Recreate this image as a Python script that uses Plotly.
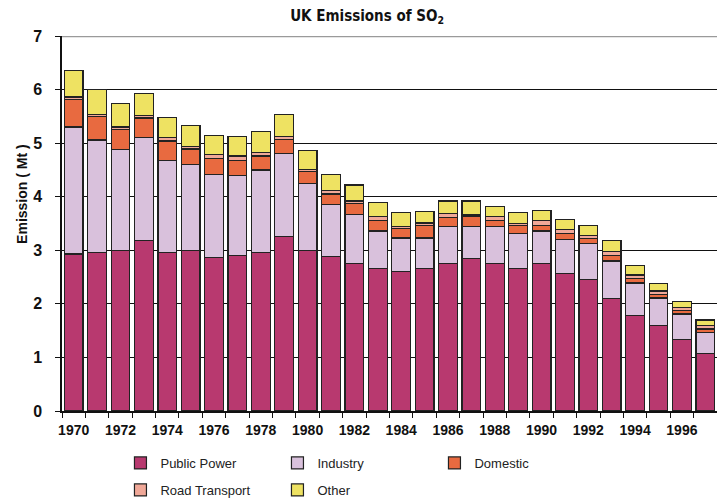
import plotly.graph_objects as go

years = list(range(1970, 1998))
public_power = [2.93, 2.96, 3.00, 3.19, 2.96, 2.99, 2.86, 2.90, 2.96, 3.26,
                3.00, 2.88, 2.76, 2.66, 2.61, 2.66, 2.76, 2.85, 2.76, 2.66,
                2.76, 2.57, 2.46, 2.10, 1.79, 1.60, 1.34, 1.08]
industry = [2.37, 2.10, 1.88, 1.92, 1.72, 1.61, 1.56, 1.50, 1.54, 1.55,
            1.25, 0.97, 0.91, 0.70, 0.62, 0.57, 0.68, 0.60, 0.68, 0.65,
            0.60, 0.63, 0.67, 0.70, 0.60, 0.51, 0.47, 0.39]
domestic = [0.52, 0.43, 0.38, 0.36, 0.36, 0.29, 0.29, 0.27, 0.26, 0.26,
            0.22, 0.20, 0.20, 0.19, 0.17, 0.24, 0.17, 0.19, 0.11, 0.16,
            0.11, 0.11, 0.09, 0.11, 0.08, 0.07, 0.06, 0.06]
road_transport = [0.04, 0.05, 0.04, 0.04, 0.06, 0.05, 0.08, 0.09, 0.06, 0.06,
                  0.04, 0.07, 0.05, 0.08, 0.04, 0.04, 0.08, 0.03, 0.08, 0.03,
                  0.08, 0.08, 0.06, 0.06, 0.07, 0.06, 0.06, 0.06]
other = [0.50, 0.46, 0.44, 0.42, 0.38, 0.39, 0.35, 0.36, 0.40, 0.40,
         0.36, 0.30, 0.30, 0.26, 0.26, 0.22, 0.23, 0.25, 0.19, 0.20,
         0.20, 0.19, 0.19, 0.21, 0.18, 0.14, 0.11, 0.11]
tick_years = list(range(1970, 1997, 2))
tick_labels = [str(y) for y in tick_years]
y_ticks = list(range(0, 8))

series = [
    ("Public Power", public_power, "#B8396F", "legend"),
    ("Industry", industry, "#D9C1DC", "legend"),
    ("Domestic", domestic, "#E86A40", "legend"),
    ("Road Transport", road_transport, "#F0A898", "legend2"),
    ("Other", other, "#EEE262", "legend2"),
]

fig = go.Figure()
for name, vals, color, lg in series:
    fig.add_trace(go.Bar(
        x=years, y=vals, name=name, legend=lg,
        marker=dict(color=color, line=dict(color="#222222", width=1.2)),
        width=0.8,
    ))

legend_common = dict(
    orientation="h", xref="container", yref="container",
    x=0.168, xanchor="left", yanchor="middle",
    entrywidth=112, entrywidthmode="pixels",
    font=dict(family="Liberation Sans, Arial, sans-serif", size=13, color="#222222"),
    traceorder="normal", bgcolor="rgba(0,0,0,0)",
)

fig.update_layout(
    width=717, height=502,
    barmode="stack",
    plot_bgcolor="white", paper_bgcolor="white",
    margin=dict(l=62, r=0, t=36, b=91, autoexpand=False),
    font=dict(family="Liberation Sans, Arial, sans-serif", color="#111111"),
    title=dict(
        text="UK Emissions of SO<sub>2</sub>",
        x=0.512, xref="container", xanchor="center",
        y=1 - 16 / 502, yref="container", yanchor="middle",
        font=dict(family="DejaVu Sans Condensed, Liberation Sans Narrow, sans-serif",
                  size=15, color="#111111", weight="bold"),
    ),
    xaxis=dict(
        range=[1969.5, 1997.5], automargin=False,
        tickmode="array", tickvals=tick_years, ticktext=tick_labels,
        ticks="outside", ticklen=5, tickcolor="rgba(0,0,0,0)",
        minor=dict(ticks="outside", tick0=1969.5, dtick=1, ticklen=5,
                   tickcolor="#111111", showgrid=False),
        showline=True, linecolor="#111111", linewidth=1.5,
        showgrid=False, zeroline=False,
        tickfont=dict(size=14, weight="bold", color="#111111"),
    ),
    yaxis=dict(
        range=[0, 7], tickvals=y_ticks, automargin=False,
        ticks="outside", ticklen=5, tickcolor="#111111",
        showline=True, linecolor="#111111", linewidth=1.5,
        showgrid=True, gridcolor="#111111", gridwidth=1.3,
        zeroline=False,
        tickfont=dict(size=16, weight="bold", color="#111111"),
        ticklabelstandoff=10,
    ),
    legend=dict(legend_common, y=1 - 463 / 502),
    legend2=dict(legend_common, y=1 - 490 / 502),
    bargap=0.2,
    showlegend=True,
)

fig.add_shape(type="line", xref="paper", yref="y", x0=0, x1=1, y0=7, y1=7,
              line=dict(color="#9a9a9a", width=2.5), layer="above")

fig.add_annotation(
    text="Emission ( Mt )", textangle=-90,
    xref="paper", yref="paper", x=-0.062, y=0.58,
    xanchor="center", yanchor="middle", showarrow=False,
    font=dict(size=14, weight="bold", color="#111111"),
)

fig.write_html("out.html", config={"displayModeBar": False},
               post_script="document.body.style.margin='0';")
